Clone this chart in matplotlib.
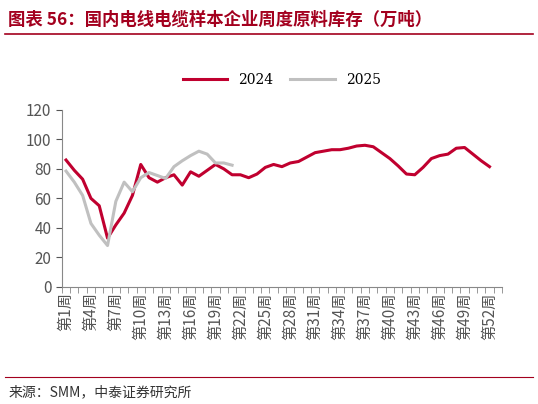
import matplotlib
matplotlib.use("Agg")
import matplotlib.pyplot as plt

plt.rcParams["font.family"] = ["Noto Sans CJK SC", "DejaVu Sans"]

weeks = list(range(1, 54))
tick_labels = [f"第{w}周" if (w - 1) % 3 == 0 else "" for w in weeks]

inv_2024 = [86, 79, 73, 60, 55, 33, 42, 50, 62, 83, 74, 71, 74, 76, 69, 78, 75, 79, 83, 80,
            76, 76, 74, 76.5, 81, 83, 81.5, 84, 85, 88, 91, 92, 93, 93, 94, 95.5, 96, 95,
            91, 87, 82, 76.5, 76, 81, 87, 89, 90, 94, 94.5, 90, 85.5, 81.5]
inv_2025 = [78.5, 71, 62, 43, 35, 28, 58, 71, 64.5, 74, 77.5, 75.5, 73.5, 81.5, 85.5, 89,
            92, 90, 84, 84, 82.5]

RED = "#C0002F"
GRAY = "#C0C0C0"

fig = plt.figure(figsize=(5.38, 4.04), dpi=100)
ax = fig.add_axes([0.115, 0.29, 0.818, 0.438])

ax.plot(range(1, len(inv_2024) + 1), inv_2024, color=RED, lw=2.2, label="2024")
ax.plot(range(1, len(inv_2025) + 1), inv_2025, color=GRAY, lw=2.2, label="2025")

ax.set_ylim(0, 120)
ax.set_yticks(range(0, 121, 20))
ax.set_xlim(0.5, 53.5)
ax.set_xticks(weeks)
ax.set_xticklabels(tick_labels, rotation=90, fontsize=11, color="#555555")
ax.set_xticks([w + 0.5 for w in range(0, 54)], minor=True)
ax.tick_params(axis="x", which="major", length=0, pad=4)
ax.tick_params(axis="x", which="minor", length=4, color="#888888")
ax.tick_params(axis="y", labelsize=11, colors="#555555", length=4)
for s in ["top", "right"]:
    ax.spines[s].set_visible(False)
for s in ["left", "bottom"]:
    ax.spines[s].set_color("#888888")

ax.legend(loc="lower center", bbox_to_anchor=(0.5, 1.06), ncol=2, frameon=False,
          prop={"family": "DejaVu Serif", "size": 10}, handlelength=3.2, columnspacing=1.2)

fig.text(0.015, 0.952, "图表 56：国内电线电缆样本企业周度原料库存（万吨）", fontsize=12.5,
         color="#A3001E", fontweight="bold", va="center")
fig.add_artist(plt.Line2D([0.01, 0.99], [0.915, 0.915], color="#A3001E", lw=1.2))
fig.add_artist(plt.Line2D([0.01, 0.99], [0.068, 0.068], color="#A3001E", lw=0.8))
fig.text(0.015, 0.03, "来源：SMM，中泰证券研究所", fontsize=10, color="#333333", va="center")

fig.savefig("out.png", dpi=100)
